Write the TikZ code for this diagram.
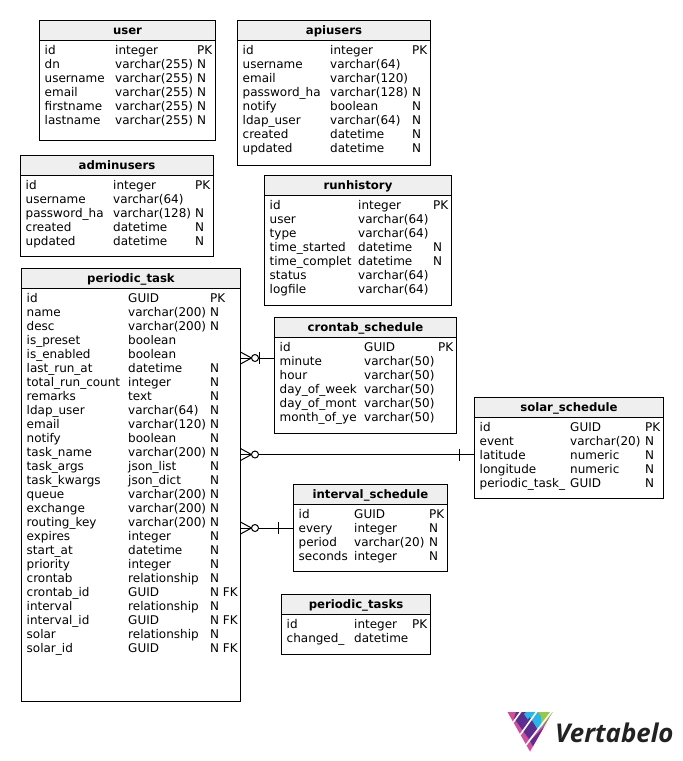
\documentclass[tikz,border=0pt]{standalone}
\usepackage{fontspec}
\setmainfont{DejaVu Sans}
\newfontfamily\logofont{Open Sans}
\definecolor{hdrgray}{HTML}{EFEFEF}
\definecolor{lpink}{HTML}{CF4F9B}
\definecolor{lpurple}{HTML}{5B2D8E}
\definecolor{lblue}{HTML}{29B5E8}
\definecolor{lgreen}{HTML}{96C84A}
\definecolor{ltext}{HTML}{222222}
\tikzset{x=1pt,y=-1pt,
  er/.style={line width=1pt,draw=black},
  celltext/.style={anchor=base west,inner sep=0pt,font=\fontsize{12}{14}\selectfont,text=black},
  titletext/.style={anchor=base,inner sep=0pt,font=\fontsize{11.7}{14}\selectfont\bfseries,text=black},
  tablebox/.style={inner sep=0pt,outer sep=0pt,anchor=north west}
}
% name, title, x1, y1, x2, y2, col2, col3 , rows
\newcommand{\ertable}[9]{%
  \pgfmathsetmacro{\bw}{#5-#3}\pgfmathsetmacro{\bh}{#6-#4}
  \fill[white] (#3,#4) rectangle (#5,#6);
  \fill[hdrgray] (#3,#4) rectangle (#5,#4+20);
  \node[tablebox,minimum width=\bw pt,minimum height=\bh pt] (#1) at (#3,#4) {};
  \draw[er] (#3,#4) rectangle (#5,#6);
  \draw[er] (#3,#4+20) -- (#5,#4+20);
  \node[titletext] (#1title) at ({(#3+#5)/2},#4+14.2) {#2};
  \pgfmathsetmacro{\colA}{#3+5}
  \foreach \a/\b/\c [count=\i from 0] in {#9} {
    \pgfmathsetmacro{\yy}{#4+34.4+14*\i}
    \node[celltext] (#1a\i) at (\colA,\yy) {\a};
    \node[celltext] (#1b\i) at (#7,\yy) {\b};
    \node[celltext] (#1c\i) at (#8,\yy) {\c};
  }
}
\newcommand{\crowfoot}[2]{% x of parent edge coordinate, y
  \draw[er] (#1,#2-6) -- (#1+11,#2) -- (#1,#2+6);
  \draw[er] (#1,#2) -- (#1+11,#2);
  \draw[er,fill=white] (#1+14.5,#2) circle (3.5);
}
\begin{document}
\begin{tikzpicture}
\useasboundingbox (0,0) rectangle (683,761);
\fill[white] (0,0) rectangle (683,761);

\ertable{user}{user}{39.5}{20.5}{215.5}{140}{115}{197}{id/integer/PK,dn/varchar(255)/N,username/varchar(255)/N,email/varchar(255)/N,firstname/varchar(255)/N,lastname/varchar(255)/N}
\ertable{apiusers}{apiusers}{237.5}{20.5}{430.5}{165}{330}{412}{id/integer/PK,username/varchar(64)/,email/varchar(120)/,password\_ha/varchar(128)/N,notify/boolean/N,ldap\_user/varchar(64)/N,created/datetime/N,updated/datetime/N}
\ertable{adminusers}{adminusers}{20.5}{155.5}{213.5}{256}{113}{195}{id/integer/PK,username/varchar(64)/,password\_ha/varchar(128)/N,created/datetime/N,updated/datetime/N}
\ertable{runhistory}{runhistory}{264.5}{175.5}{451.5}{305}{358}{433}{id/integer/PK,user/varchar(64)/,type/varchar(64)/,time\_started/datetime/N,time\_complet/datetime/N,status/varchar(64)/,logfile/varchar(64)/}
\ertable{ptask}{periodic\_task}{21.5}{268.5}{240.5}{701}{128}{210}{id/GUID/PK,name/varchar(200)/N,desc/varchar(200)/N,is\_preset/boolean/,is\_enabled/boolean/,last\_run\_at/datetime/N,total\_run\_count/integer/N,remarks/text/N,ldap\_user/varchar(64)/N,email/varchar(120)/N,notify/boolean/N,task\_name/varchar(200)/N,task\_args/json\_list/N,task\_kwargs/json\_dict/N,queue/varchar(200)/N,exchange/varchar(200)/N,routing\_key/varchar(200)/N,expires/integer/N,start\_at/datetime/N,priority/integer/N,crontab/relationship/N,crontab\_id/GUID/N FK,interval/relationship/N,interval\_id/GUID/N FK,solar/relationship/N,solar\_id/GUID/N FK}
\ertable{crontab}{crontab\_schedule}{274.5}{317.5}{456.5}{433}{364}{438}{id/GUID/PK,minute/varchar(50)/,hour/varchar(50)/,day\_of\_week/varchar(50)/,day\_of\_mont/varchar(50)/,month\_of\_ye/varchar(50)/}
\ertable{solar}{solar\_schedule}{474.5}{397.5}{663.5}{498.5}{570}{645}{id/GUID/PK,event/varchar(20)/N,latitude/numeric/N,longitude/numeric/N,periodic\_task\_/GUID/N}
\ertable{interval}{interval\_schedule}{293.5}{484.5}{447.5}{571}{354}{429}{id/GUID/PK,every/integer/N,period/varchar(20)/N,seconds/integer/N}
\ertable{ptasks}{periodic\_tasks}{281.5}{594.5}{430.5}{654.5}{354}{412}{id/integer/PK,changed\_/datetime/}

% connectors
\coordinate (ca) at (0,358);
\coordinate (cb) at (0,454.5);
\coordinate (cc) at (0,528);
\draw[er] (ptask.east |- ca) -- (crontab.west |- ca);
\draw[er] (ptask.east |- cb) -- (solar.west |- cb);
\draw[er] (ptask.east |- cc) -- (interval.west |- cc);
\crowfoot{240.5}{358}
\crowfoot{240.5}{454.5}
\crowfoot{240.5}{528}
\draw[er] (259.5,352) -- (259.5,364);
\draw[er] (459.5,448.5) -- (459.5,460.5);
\draw[er] (278.5,522) -- (278.5,534);

% logo
\begin{scope}
\clip (507.5,712) -- (552.5,712) -- (530,751.5) -- cycle;
\fill[lpink] (500,705) rectangle (560,755);
\fill[lpurple] (516,712) -- (526,712) -- (530,717) -- (521,728) -- (514,718) -- cycle;
\fill[lblue] (526,712) -- (538,712) -- (541,716) -- (533,727) -- (524,714) -- cycle;
\fill[lpurple] (521,728) -- (530,717) -- (538,728) -- (529,739) -- cycle;
\fill[lblue] (530,717) -- (541,716) -- (548,717) -- (538,730) -- cycle;
\fill[lgreen] (538,712) -- (553,712) -- (541,728) -- (541,716) -- cycle;
\fill[lgreen] (553,715) -- (553,722) -- (544,730) -- cycle;
\fill[lpurple] (538,733) -- (544,727) -- (546,733) -- (534,748) -- (530,741) -- cycle;
\draw[white,line width=1.6pt] (512,724) -- (522,710);
\draw[white,line width=1.6pt] (520,735) -- (538,710);
\draw[white,line width=1.6pt] (526,745) -- (552,711);
\end{scope}
\node[anchor=base west,inner sep=0pt,font=\logofont\fontsize{25.8}{28}\selectfont\bfseries\itshape,text=ltext] (logo) at (555,742) {Vertabelo};
\end{tikzpicture}
\end{document}
